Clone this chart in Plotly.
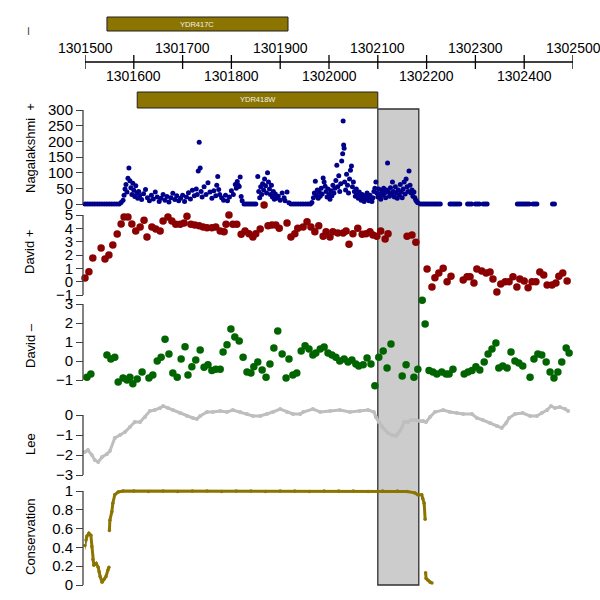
import plotly.graph_objects as go

START = 1301500
W, H = 600, 600
FONT = "Liberation Sans, Arial, sans-serif"

# ---------------- data (offsets in bp from START) ----------------
naga_pos = [0, 5, 10, 15, 20, 25, 30, 35, 40, 45, 50, 55, 60, 65, 70,
            74, 78, 80, 82, 84, 86, 88, 90, 92, 94, 96, 98, 100, 102, 104, 106, 108, 110, 112,
            116, 120, 124, 128, 132, 136, 140, 144, 148, 152, 156, 160, 164, 168, 172, 176,
            180, 184, 188, 192, 196, 200, 204, 208, 212, 216, 220, 224, 228, 230, 232, 234,
            236, 238, 240, 244, 248, 252, 256, 260, 264, 268, 270, 272, 274, 276, 280, 284,
            288, 292, 296, 300, 304, 308, 310, 312, 314, 316, 318, 320, 322,
            326, 330, 334, 338, 342, 346, 350,
            354, 356, 358, 360, 362, 364, 366, 368, 370, 372, 374, 376, 378, 380, 382, 384,
            386, 388, 390, 392, 396, 400, 404, 408, 410, 414, 418,
            422, 427, 432, 437, 442, 447, 452, 457, 462,
            465, 468, 470, 472, 474, 476, 478, 480, 482, 484, 486, 488, 490, 492, 494, 496,
            498, 500, 502, 504, 506, 508, 510, 512, 514, 516, 518, 520, 522, 524, 526, 528,
            529, 530, 531, 532, 534, 536, 538, 540, 542, 544, 546, 548, 550, 552, 554, 556,
            558, 560, 562, 564, 566, 568, 570, 572, 574, 576, 578, 580, 582, 584, 586, 588,
            590, 592, 594, 596, 598, 600, 602, 604, 606, 608, 610, 612, 614, 616, 618, 620,
            622, 624, 626, 628, 630, 632, 634, 636, 638, 640, 642, 644, 646, 648, 650, 652,
            654, 656, 658, 660, 662, 664, 666, 668, 670, 672, 674, 676, 678, 680, 682,
            688, 692, 696, 700, 704, 708, 712, 716, 720, 724, 728,
            748, 752, 756, 760, 764, 768, 784, 788, 792, 800, 804, 808, 816, 820, 824,
            886, 890, 894, 898, 902, 906, 910, 918, 922, 926, 958, 962]
naga_val = [0, 0, 0, 0, 0, 0, 0, 0, 0, 0, 0, 0, 0, 0, 0,
            5, 12, 28, 48, 62, 38, 82, 115, 74, 52, 30, 66, 44, 24, 58, 35, 18, 40, 27,
            14, 33, 46, 20, 10, 28, 16, 38, 22, 8, 18, 30, 12, 24, 6, 20,
            34, 14, 26, 10, 18, 28, 8, 22, 36, 16, 44, 26, 48, 30, 105, 197,
            115, 40, 22, 55, 30, 68, 38, 18, 42, 26, 60, 88, 46, 30, 20, 12,
            28, 10, 22, 42, 30, 62, 50, 72, 60, 56, 86, 24, 10,
            0, 0, 0, 0, 0, 0, 0,
            88, 40, 20, 55, 30, 65, 45, 80, 58, 35, 100, 70, 48, 30, 60, 22,
            40, 15, 32, 18, 25, 12, 35, 20, 10, 38, 4,
            0, 0, 0, 0, 0, 0, 0, 0, 0,
            5, 20, 35, 73, 28, 45, 18, 38, 25, 50, 32, 83, 70, 57, 40, 22,
            48, 30, 15, 42, 26, 60, 35, 50, 75, 124, 55, 90, 40, 65, 137, 160,
            265, 188, 178, 70, 45, 95, 60, 35, 80, 108, 121, 55, 70, 40, 25, 48,
            30, 18, 38, 22, 12, 30, 20, 8, 26, 15, 35, 22, 10, 28, 18, 8,
            20, 40, 50, 70, 35, 22, 48, 30, 15, 42, 28, 50, 35, 20, 45, 131,
            38, 25, 52, 30, 70, 40, 22, 55, 35, 18, 45, 28, 62, 38, 20, 48,
            70, 32, 80, 55, 40, 105, 60, 35, 45, 25, 38, 20, 12, 8, 4,
            0, 0, 0, 0, 0, 0, 0, 0, 0, 0, 0,
            0, 0, 0, 0, 0, 0, 0, 0, 0, 0, 0, 0, 0, 0, 0,
            0, 0, 0, 0, 0, 0, 0, 0, 0, 0, 0, 0]

dplus_pos = [0, 8, 16, 33, 41, 49, 57, 66, 74, 80, 88, 96, 104, 113, 121, 127, 137, 145,
             154, 160, 170, 178, 186, 195, 203, 209, 217, 225, 234, 242, 250, 260, 268,
             277, 285, 289, 295, 303, 311, 320, 328, 336, 344, 350, 359, 367, 375, 383,
             391, 398, 414, 422, 430, 436, 447, 455, 463, 471, 479, 488, 494, 502, 508,
             518, 529, 535, 541, 549, 559, 568, 576, 584, 590, 598, 606, 615, 621, 660,
             670, 678,
             701, 711, 717, 725, 734, 742, 750, 775, 783, 789, 797, 803, 813, 822, 830,
             836, 844, 852, 861, 869, 877, 885, 891, 900, 908, 916, 924, 932, 940, 947,
             957, 965, 971, 979, 988]
dplus_val = [0.27, 0.75, 1.77, 2.52, 1.7, 2.0, 2.75, 3.57, 4.33, 4.85, 4.85, 4.33, 3.8, 4.1,
             4.6, 3.35, 4.1, 3.95, 3.8, 4.55, 4.85, 4.55, 4.3, 4.3, 4.4, 4.9, 4.3, 4.25,
             4.2, 4.1, 4.05, 4.05, 4.1, 3.8, 3.75, 4.3, 5.0, 4.3, 4.3, 3.55, 3.8, 3.6,
             3.35, 3.6, 3.95, 5.75, 4.2, 4.25, 4.25, 4.0, 4.4, 3.35, 3.6, 4.0, 4.1, 4.5,
             4.1, 3.75, 4.2, 3.4, 3.75, 3.35, 3.75, 3.65, 3.65, 3.8, 2.8, 3.6, 4.0, 3.55,
             3.6, 3.75, 3.5, 3.4, 3.8, 3.2, 3.6, 3.4, 3.5, 2.95,
             0.95, -0.4, 0.3, 0.65, 1.0, 0.0, 0.4, 0.12, 0.37, 0.37, -0.1, 0.95, 0.8,
             0.65, 0.72, 0.2, -0.77, -0.17, 0.0, 0.0, 0.37, -0.4, 0.2, 0.05, -0.45, 0.0,
             0.0, 0.72, 0.5, -0.25, -0.25, -0.1, 0.4, 0.65, 0.05]

dminus_pos = [4, 12, 45, 53, 61, 68, 78, 86, 92, 98, 107, 117, 131, 139, 148, 156, 164,
              172, 180, 189, 197, 205, 211, 219, 227, 236, 244, 252, 260, 268, 277, 283,
              291, 299, 307, 316, 324, 332, 340, 346, 354, 363, 371, 379, 387, 395, 404,
              412, 418, 426, 434, 443, 451, 459, 467, 473, 482, 490, 498, 506, 514, 522,
              531, 539, 547, 555, 561, 570, 578, 586, 594, 602, 611, 619, 627, 650, 658,
              674, 682, 691, 697, 705, 713, 721, 731, 740, 746, 754, 777, 785, 793, 801,
              809, 818, 826, 834, 842, 848, 856, 865, 873, 881, 889, 897, 912, 920, 928,
              936, 945, 953, 961, 969, 977, 986, 992]
dminus_val = [-0.85, -0.68, 0.32, 0.1, 0.2, -1.1, -0.9, -1.0, -0.85, -1.2, -0.95, -0.58,
              -0.9, -0.74, 0.0, 0.2, 1.15, 0.37, -0.63, -0.85, 0.1, 0.75, -0.74, -0.3,
              0.05, 0.58, -0.33, -0.2, -0.5, -0.43, -0.43, 0.48, 0.85, 1.68, 1.26, 1.05,
              0.2, -0.58, -0.63, -0.3, -0.05, -0.47, -0.85, -0.16, 0.68, 1.58, 0.37, -0.9,
              0.1, -0.74, -0.63, 0.53, 0.8, 0.63, 0.32, 0.42, 0.63, 0.74, 0.42, 0.32, 0.2,
              0.0, 0.1, -0.05, 0.05, -0.16, -0.26, -0.2, 0.16, -0.16, -1.3, 0.2, 0.53,
              -0.37, 0.9, -0.79, -0.2, -0.85, -0.43, 3.2, 1.95, -0.5, -0.58, -0.68, -0.58,
              -0.68, -0.68, -0.43, -0.68, -0.58, -0.5, -0.3, -0.47, -0.05, 0.37, 0.63,
              0.95, -0.37, -0.26, -0.37, 0.48, 0.0, -0.1, -0.26, -0.85, 0.1, 0.37, 0.32,
              -0.05, -0.58, -0.9, -0.58, -0.05, 0.68, 0.42]

lee_pos = [0, 6, 14, 20, 27, 35, 45, 51, 61, 72, 82, 92, 102, 113, 123, 133, 143, 154,
           160, 170, 180, 195, 209, 221, 229, 236, 250, 262, 277, 291, 303, 318, 332, 344,
           359, 373, 385, 400, 414, 426, 441, 447, 467, 482, 502, 522, 543, 563, 580, 592,
           596, 602, 609, 615, 621, 629, 637, 641, 645, 650, 654, 662, 668, 676, 686, 693,
           699, 707, 717, 734, 748, 762, 775, 793, 803, 815, 830, 844, 854, 863, 869, 881,
           897, 912, 926, 936, 947, 955, 963, 973, 984, 990]
lee_val = [-1.85, -1.75, -2.0, -2.25, -2.35, -2.1, -1.95, -1.8, -1.15, -1.0, -0.85, -0.6,
           -0.35, -0.35, -0.1, 0.2, 0.25, 0.35, 0.45, 0.35, 0.25, 0.1, -0.05, -0.15, -0.2,
           -0.05, 0.15, 0.15, 0.2, 0.15, 0.25, 0.15, 0.05, -0.05, -0.05, 0.05, 0.15, 0.3,
           0.15, 0.05, 0.05, 0.15, 0.3, 0.15, 0.2, 0.25, 0.15, 0.2, 0.25, 0.15, -0.1,
           -0.35, -0.6, -0.75, -0.9, -1.0, -1.05, -0.95, -0.8, -0.6, -0.35, -0.35, -0.25,
           -0.25, -0.3, -0.3, -0.35, -0.1, 0.15, 0.25, 0.15, 0.1, 0.05, 0.05, -0.15, -0.25,
           -0.4, -0.55, -0.65, -0.4, -0.15, 0.05, 0.1, -0.05, -0.05, 0.1, 0.25, 0.45, 0.35,
           0.4, 0.3, 0.2]

cons_pos = [-4, 0, 2, 4, 8, 12, 14, 16, 18, 23, 27, 29, 31, 35, 39, 43, 47, 49, None,
            50, 51, 55, 57, 61, 68, 78, 100, 130, 160, 190, 220, 250, 280, 310, 340, 370,
            400, 430, 460, 490, 520, 550, 580, 610, 640, 660, 676, 682, 690, 692, 695, 697,
            None, 698, 699, 703, 707, 711]
cons_val = [0.35, 0.42, 0.48, 0.52, 0.55, 0.53, 0.41, 0.27, 0.21, 0.23, 0.19, 0.14, 0.09,
            0.03, 0.06, 0.09, 0.16, 0.19, None,
            0.58, 0.69, 0.78, 0.87, 0.96, 0.99, 1.0, 1.0, 0.995, 1.0, 0.995, 1.0, 1.0,
            0.995, 1.0, 1.0, 0.995, 1.0, 1.0, 0.995, 1.0, 1.0, 1.0, 0.995, 1.0, 1.0, 0.995,
            0.98, 0.96, 0.96, 0.92, 0.87, 0.70,
            None, 0.13, 0.07, 0.05, 0.03, 0.02]

genes = ["YDR417C", "YDR418W"]
gene_start = [1301545, 1301607]
gene_end = [1301916, 1302100]

highlight = [1302100, 1302184]

axis_ticks = [1301500, 1301600, 1301700, 1301800, 1301900, 1302000,
              1302100, 1302200, 1302300, 1302400, 1302500]
axis_labels = ["1301500", "1301600", "1301700", "1301800", "1301900", "1302000",
               "1302100", "1302200", "1302300", "1302400", "1302500"]

# panel definitions: (title, axis-line pixel top, bottom, value range, ticks, title centre)
panels = [
    ("Nagalakshmi  +", 110, 204, [0, 300], [0, 50, 100, 150, 200, 250, 300], 148),
    ("David +", 215, 295, [-1, 5], [-1, 0, 1, 2, 3, 4, 5], 252),
    ("David \u2013", 304, 380, [-1, 3], [-1, 0, 1, 2, 3], 346),
    ("Lee", 415, 475, [-3, 0], [-3, -2, -1, 0], 444),
    ("Conservation", 491, 585, [0, 1], [0, 0.2, 0.4, 0.6, 0.8, 1], 537),
]


def py(p):
    return 1 - p / H


def xs(offsets):
    return [None if o is None else START + o for o in offsets]


fig = go.Figure()

series = [
    (naga_pos, naga_val, "#00008B", 5, 0, "markers", "y"),
    (dplus_pos, dplus_val, "#8B0000", 7.5, 0, "markers", "y2"),
    (dminus_pos, dminus_val, "#006400", 7.5, 0, "markers", "y3"),
    (lee_pos, lee_val, "#BEBEBE", 4, 3, "lines+markers", "y4"),
    (cons_pos, cons_val, "#8B7500", 3.5, 3, "lines+markers", "y5"),
]
for pos, val, col, size, lw, mode, yax in series:
    fig.add_trace(go.Scatter(
        x=xs(pos), y=val, mode=mode, xaxis="x", yaxis=yax,
        marker=dict(color=col, size=size, line=dict(width=0)),
        line=dict(color=col, width=max(lw, 1)),
        cliponaxis=False, showlegend=False, hoverinfo="skip", connectgaps=False,
    ))

axcol = "#404040"
AXX = 83 / W
PAD = 10
layout = dict(
    width=W, height=H, margin=dict(l=0, r=0, t=0, b=0, autoexpand=False),
    paper_bgcolor="white", plot_bgcolor="rgba(0,0,0,0)",
    font=dict(family=FONT, color="black"),
    showlegend=False,
    xaxis=dict(domain=[85 / W, 573 / W], range=[START, START + 1000], visible=False,
               anchor="y", fixedrange=True, automargin=False),
)
annotations = []
shapes = []
for i, (title, top, bot, rng, tv, tcy) in enumerate(panels):
    key = "yaxis" if i == 0 else f"yaxis{i + 1}"
    yref = "y" if i == 0 else f"y{i + 1}"
    ppu = (bot - top) / (rng[1] - rng[0])
    ext = PAD / ppu
    layout[key] = dict(
        domain=[py(bot + PAD), py(top - PAD)], range=[rng[0] - ext, rng[1] + ext],
        anchor="free", position=AXX, automargin=False,
        showline=False, ticks="outside", ticklen=7,
        tickwidth=1.3, tickcolor=axcol, tickvals=tv, showgrid=False, zeroline=False,
        tickfont=dict(size=15, family=FONT, color="black"), fixedrange=True,
    )
    shapes.append(dict(type="line", xref="paper", yref=yref, x0=AXX, x1=AXX,
                       y0=rng[0], y1=rng[1], line=dict(color=axcol, width=1.3)))
    annotations.append(dict(
        text=title, x=30 / W, y=py(tcy), xref="paper", yref="paper", showarrow=False,
        textangle=-90, font=dict(size=13, family=FONT, color="black"),
        xanchor="center", yanchor="middle",
    ))

# highlight rectangle
shapes.append(dict(type="rect", xref="x", yref="paper", x0=highlight[0], x1=highlight[1],
                   y0=py(585), y1=py(109), fillcolor="#CCCCCC",
                   line=dict(color="#303030", width=1.3), layer="below"))

# genes
gene_rows = [(17, 31), (92, 108)]
for g, s, e, (t, b) in zip(genes, gene_start, gene_end, gene_rows):
    shapes.append(dict(type="rect", xref="x", yref="paper", x0=s, x1=e, y0=py(b), y1=py(t),
                       fillcolor="#8B7500", line=dict(color="#202020", width=1), layer="above"))
    annotations.append(dict(text=g, x=(s + e) / 2, y=py((t + b) / 2), xref="x", yref="paper",
                            showarrow=False, font=dict(size=7.5, family=FONT, color="#F0F0F0"),
                            xanchor="center", yanchor="middle"))

# strand label
annotations.append(dict(text="\u2013", x=27 / W, y=py(31), xref="paper", yref="paper",
                        showarrow=False, textangle=-90, xanchor="center", yanchor="middle",
                        font=dict(size=14, family=FONT, color="#404040")))

# genome axis
shapes.append(dict(type="line", xref="x", yref="paper", x0=axis_ticks[0], x1=axis_ticks[-1],
                   y0=py(62), y1=py(62), line=dict(color="black", width=1.3)))
for i, (tk, lab) in enumerate(zip(axis_ticks, axis_labels)):
    shapes.append(dict(type="line", xref="x", yref="paper", x0=tk, x1=tk,
                       y0=py(55), y1=py(69), line=dict(color="black", width=1.3)))
    ly = 48 if i % 2 == 0 else 76
    annotations.append(dict(text=lab, x=tk, y=py(ly), xref="x", yref="paper",
                            showarrow=False, xanchor="center", yanchor="middle",
                            font=dict(size=14, family=FONT, color="black")))

layout["annotations"] = annotations
layout["shapes"] = shapes
fig.update_layout(**layout)
fig.write_html("out.html", config={"displayModeBar": False},
               post_script="document.body.style.margin='0';document.body.style.padding='0';")
